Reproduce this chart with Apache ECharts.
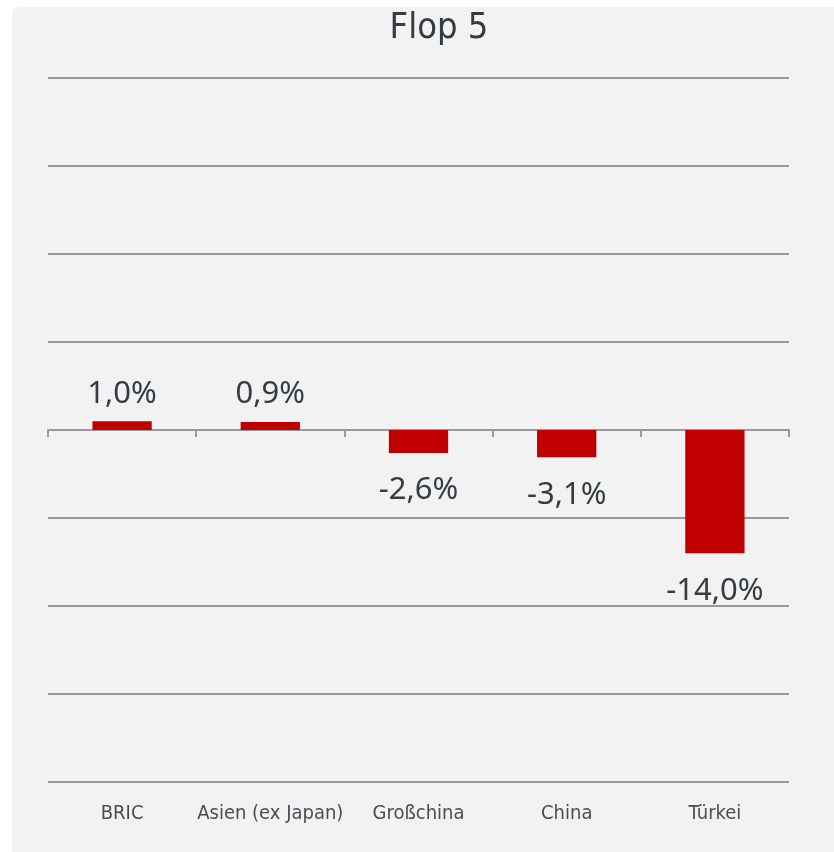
<!DOCTYPE html>
<html>
<head>
<meta charset="utf-8">
<script src="https://cdn.jsdelivr.net/npm/echarts@6/dist/echarts.min.js"></script>
<style>
html,body{margin:0;padding:0;background:#ffffff;width:834px;height:852px;overflow:hidden;}
#panel{position:absolute;left:12px;top:7px;width:822px;height:845px;background:#f2f2f2;border-top-left-radius:6px;}
#chart{position:absolute;left:0;top:0;width:834px;height:852px;}
</style>
</head>
<body>
<div id="panel"></div>
<div id="chart"></div>
<script>
var categories = ["BRIC", "Asien (ex Japan)", "Großchina", "China", "Türkei"];
var values = [1.0, 0.9, -2.6, -3.1, -14.0];
var titleText = "Flop 5";

var chart = echarts.init(document.getElementById('chart'), null, {renderer: 'canvas'});
var labelColor = '#343d44';
var condensed = '"Liberation Sans Narrow", "DejaVu Sans Condensed", "Noto Sans", sans-serif';

chart.setOption({
  backgroundColor: 'transparent',
  animation: false,
  title: {
    text: titleText,
    left: 434,
    textAlign: 'center',
    top: 6,
    textStyle: {fontFamily: condensed, fontSize: 36, fontWeight: 'normal', color: '#333c44'}
  },
  grid: {left: 48, right: 45, top: 78, bottom: 70, containLabel: false},
  xAxis: [
    {
      type: 'category',
      data: categories,
      axisLine: {onZero: true, lineStyle: {color: '#9a9a9a', width: 2}},
      axisTick: {show: true, length: 7, lineStyle: {color: '#9a9a9a', width: 2}},
      axisLabel: {show: false}
    },
    {
      type: 'category',
      data: categories,
      position: 'bottom',
      axisLine: {show: false, onZero: false},
      axisTick: {show: false},
      axisLabel: {show: true, interval: 0, margin: 22, fontFamily: condensed, fontSize: 20, color: '#474f56'}
    }
  ],
  yAxis: {
    type: 'value',
    min: -40,
    max: 40,
    interval: 10,
    axisLabel: {show: false},
    axisLine: {show: false},
    axisTick: {show: false},
    splitLine: {show: true, lineStyle: {color: '#9a9a9a', width: 2}}
  },
  series: [{
    type: 'bar',
    xAxisIndex: 0,
    data: values.map(function (v) {
      return {
        value: v,
        label: {position: v >= 0 ? 'top' : 'bottom', distance: v >= 0 ? 12 : 22}
      };
    }),
    barWidth: '40%',
    itemStyle: {color: '#c00000'},
    label: {
      show: true,
      fontFamily: '"Noto Sans", sans-serif',
      fontSize: 31,
      color: labelColor,
      formatter: function (p) {
        return p.value.toFixed(1).replace('.', ',') + '%';
      }
    }
  }]
});
</script>
</body>
</html>
